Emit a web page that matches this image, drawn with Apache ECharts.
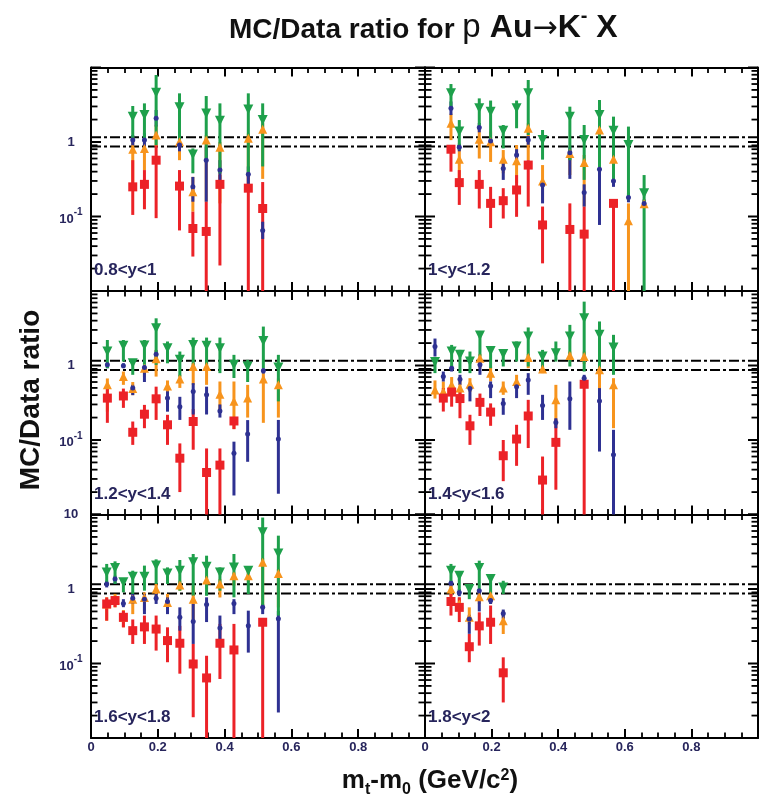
<!DOCTYPE html>
<html>
<head>
<meta charset="utf-8">
<script src="https://cdn.jsdelivr.net/npm/echarts@6.0.0/dist/echarts.min.js"></script>
<style>
html, body { margin: 0; padding: 0; background: #fff; }
#chart { width: 763px; height: 803px; }
</style>
</head>
<body>
<div id="chart"></div>
<script>
// Rapidity bins, one panel each
const binLabels = ['0.8<y<1', '1<y<1.2', '1.2<y<1.4', '1.4<y<1.6', '1.6<y<1.8', '1.8<y<2'];

// Tick labels
const xTickLabels = ['0', '0.2', '0.4', '0.6', '0.8'];

// Reference band drawn as two dash-dotted lines
const refLines = [0.87, 1.16];

// Each point: [mt-m0 (GeV/c2), MC/Data ratio, lower end of error bar, upper end of error bar]
const red1 = [[0.125,0.25,0.105,0.57],[0.160,0.27,0.125,0.42],[0.195,0.57,0.095,0.90],[0.265,0.256,0.065,0.42],[0.305,0.069,0.029,0.116],[0.345,0.063,0.001,0.158],[0.386,0.27,0.022,0.36],[0.471,0.24,0.001,0.36],[0.514,0.128,0.001,0.29]];
const orange1 = [[0.125,0.80,0.25,1.18],[0.160,0.82,0.42,1.12],[0.195,1.24,0.87,1.70],[0.265,1.01,0.57,1.18],[0.305,0.215,0.116,0.34],[0.345,1.06,0.158,1.24],[0.386,0.85,0.15,1.00],[0.471,1.12,0.25,1.30],[0.514,1.48,0.32,1.78]];
const blue1 = [[0.125,1.06,0.90,1.24],[0.160,1.06,0.87,1.31],[0.195,2.08,1.61,2.69],[0.265,0.91,0.75,1.06],[0.305,0.25,0.158,0.34],[0.345,0.57,0.158,0.87],[0.386,0.42,0.31,0.57],[0.471,0.37,0.25,0.47],[0.514,0.065,0.05,0.085]];
const green1 = [[0.125,2.19,1.06,3.04],[0.160,2.30,1.01,3.30],[0.195,4.59,0.91,7.93],[0.265,2.92,0.87,4.50],[0.305,0.68,0.38,0.82],[0.345,2.42,0.57,4.14],[0.386,1.93,0.38,3.30],[0.471,2.74,0.38,4.50],[0.514,1.97,0.47,3.30]];

const red2 = [[0.078,0.80,0.40,0.91],[0.103,0.285,0.143,0.42],[0.163,0.27,0.128,0.42],[0.197,0.15,0.07,0.25],[0.235,0.163,0.094,0.24],[0.275,0.227,0.099,0.36],[0.310,0.49,0.136,0.57],[0.353,0.077,0.0235,0.136],[0.435,0.067,0.001,0.15],[0.478,0.058,0.001,0.136],[0.566,0.15,0.001,0.166]];
const orange2 = [[0.078,1.78,1.06,2.40],[0.103,0.585,0.31,0.78],[0.163,1.09,0.60,1.53],[0.197,1.01,0.54,1.38],[0.235,0.585,0.38,0.78],[0.275,0.56,0.28,0.91],[0.310,1.53,0.57,1.78],[0.353,0.30,0.166,0.49],[0.435,0.70,0.36,0.80],[0.478,0.53,0.136,0.67],[0.524,1.45,0.34,1.69],[0.566,0.585,0.30,0.70],[0.611,0.088,0.001,0.15],[0.658,0.148,0.13,0.166]];
const blue2 = [[0.078,2.83,2.3,3.5],[0.103,0.85,0.75,0.95],[0.163,1.57,1.35,1.8],[0.197,1.03,0.9,1.17],[0.235,0.44,0.31,0.57],[0.275,0.67,0.57,0.80],[0.310,1.06,0.92,1.2],[0.353,0.265,0.15,0.31],[0.435,0.72,0.32,0.87],[0.478,0.21,0.136,0.27],[0.524,0.43,0.077,0.57],[0.566,0.30,0.25,0.35],[0.611,0.18,0.155,0.21],[0.658,0.15,0.13,0.17]];
const green2 = [[0.078,4.50,2.83,6.00],[0.103,1.38,0.78,1.97],[0.163,2.83,1.61,3.85],[0.197,2.55,1.06,3.60],[0.235,1.42,0.82,1.69],[0.275,2.83,1.53,3.60],[0.310,4.50,1.24,6.80],[0.353,1.06,0.58,1.45],[0.435,2.19,0.57,2.98],[0.478,1.06,0.31,1.69],[0.524,2.30,0.42,3.66],[0.566,1.42,0.31,2.19],[0.611,0.91,0.166,1.61],[0.658,0.205,0.001,0.36]];

const red3 = [[0.049,0.365,0.17,0.49],[0.097,0.39,0.27,0.49],[0.125,0.127,0.086,0.177],[0.160,0.222,0.144,0.296],[0.195,0.357,0.186,0.52],[0.229,0.16,0.086,0.218],[0.266,0.057,0.02,0.09],[0.306,0.177,0.074,0.26],[0.346,0.0366,0.001,0.077],[0.386,0.046,0.001,0.077],[0.428,0.18,0.14,0.20]];
const orange3 = [[0.049,0.55,0.24,0.67],[0.097,0.71,0.55,0.83],[0.125,0.49,0.40,0.60],[0.160,0.92,0.70,1.0],[0.195,1.23,0.71,1.62],[0.229,0.53,0.40,0.63],[0.266,0.66,0.50,0.75],[0.306,0.97,0.55,1.08],[0.346,0.97,0.55,1.13],[0.386,0.41,0.24,0.61],[0.428,0.33,0.14,0.61],[0.469,0.365,0.20,0.55],[0.516,0.66,0.17,0.79],[0.561,0.55,0.20,0.67]];
const blue3 = [[0.049,1.02,0.92,1.1],[0.097,0.99,0.92,1.07],[0.125,0.50,0.40,0.55],[0.160,0.94,0.60,1.02],[0.195,1.42,1.2,1.6],[0.229,0.365,0.24,0.45],[0.266,0.28,0.186,0.38],[0.306,0.448,0.22,0.58],[0.346,0.404,0.22,0.52],[0.386,0.246,0.20,0.30],[0.428,0.0666,0.018,0.095],[0.469,0.12,0.051,0.185],[0.516,0.85,0.78,0.92],[0.561,0.103,0.019,0.186]];
const green3 = [[0.049,1.54,0.92,2.20],[0.097,1.84,1.13,2.20],[0.125,1.07,0.75,1.19],[0.160,1.85,1.02,2.20],[0.195,3.17,1.02,4.30],[0.229,1.71,1.07,2.10],[0.266,1.19,0.71,1.54],[0.306,1.89,0.97,2.37],[0.346,1.84,0.92,2.37],[0.386,1.71,0.79,2.37],[0.428,1.02,0.68,1.39],[0.469,0.97,0.60,1.19],[0.516,2.14,0.92,3.33],[0.561,0.94,0.33,1.39]];

const red4 = [[0.055,0.365,0.241,0.497],[0.080,0.44,0.28,0.55],[0.105,0.36,0.196,0.448],[0.135,0.155,0.086,0.218],[0.165,0.32,0.21,0.42],[0.197,0.237,0.155,0.31],[0.235,0.0615,0.028,0.10],[0.275,0.103,0.045,0.16],[0.310,0.21,0.078,0.346],[0.353,0.029,0.001,0.06],[0.393,0.093,0.0215,0.19],[0.478,0.56,0.001,0.64]];
const orange4 = [[0.030,0.47,0.36,0.63],[0.055,0.448,0.33,0.61],[0.080,0.55,0.40,0.70],[0.105,0.497,0.365,0.63],[0.135,0.56,0.44,0.676],[0.165,1.25,0.92,1.43],[0.197,0.79,0.61,0.97],[0.235,0.497,0.404,0.61],[0.275,0.61,0.52,0.75],[0.310,1.28,0.92,1.43],[0.353,0.90,0.79,0.97],[0.393,0.346,0.177,0.55],[0.435,1.36,1.13,1.54],[0.478,1.32,1.05,1.54],[0.524,0.875,0.23,0.97],[0.566,0.55,0.144,0.676]];
const blue4 = [[0.030,1.80,1.32,2.30],[0.055,0.71,0.61,0.83],[0.080,0.92,0.83,1.0],[0.105,0.655,0.55,0.75],[0.135,0.49,0.33,0.55],[0.165,1.02,0.75,1.13],[0.197,0.53,0.365,0.61],[0.235,0.31,0.218,0.365],[0.275,0.52,0.365,0.61],[0.310,0.64,0.404,0.79],[0.353,0.29,0.186,0.404],[0.393,0.172,0.144,0.196],[0.435,0.357,0.137,0.61],[0.478,0.676,0.61,0.75],[0.524,0.335,0.07,0.497],[0.566,0.0632,0.001,0.137]];
const green4 = [[0.030,1.11,0.79,1.30],[0.080,1.54,0.875,1.89],[0.105,1.39,0.79,1.62],[0.135,1.13,0.79,1.54],[0.165,2.53,1.32,2.86],[0.197,1.57,0.92,1.80],[0.235,1.43,0.97,1.62],[0.275,1.80,1.13,2.10],[0.310,2.45,0.97,3.24],[0.353,1.32,0.875,1.62],[0.393,1.46,1.13,2.10],[0.435,2.45,0.97,3.51],[0.478,4.32,0.83,7.20],[0.524,2.58,0.92,3.90],[0.566,1.74,0.75,2.58]];

const red5 = [[0.047,0.63,0.376,0.77],[0.072,0.70,0.57,0.80],[0.097,0.417,0.306,0.51],[0.125,0.276,0.183,0.39],[0.160,0.31,0.183,0.44],[0.195,0.29,0.149,0.44],[0.229,0.203,0.104,0.306],[0.266,0.187,0.073,0.32],[0.306,0.0985,0.019,0.183],[0.346,0.064,0.001,0.127],[0.386,0.187,0.062,0.34],[0.428,0.152,0.001,0.34],[0.514,0.358,0.001,0.39]];
const orange5 = [[0.047,0.63,0.376,0.773],[0.072,0.73,0.567,0.86],[0.097,0.417,0.306,0.52],[0.125,0.73,0.46,0.83],[0.160,0.77,0.51,0.90],[0.195,1.0,0.70,1.17],[0.229,0.66,0.51,0.86],[0.266,1.13,0.95,1.29],[0.306,0.73,0.376,1.11],[0.346,1.32,1.0,1.51],[0.386,1.17,0.77,1.36],[0.428,1.51,1.11,1.67],[0.471,1.51,1.23,1.76],[0.514,2.28,0.567,2.6],[0.561,1.62,0.567,1.86]];
const blue5 = [[0.047,1.17,1.05,1.29],[0.072,1.36,1.17,1.51],[0.097,0.64,0.57,0.73],[0.125,0.75,0.63,0.86],[0.160,0.73,0.46,0.86],[0.195,0.75,0.63,0.86],[0.229,0.68,0.46,0.77],[0.266,0.417,0.276,0.567],[0.306,0.365,0.183,0.63],[0.346,0.62,0.36,0.773],[0.386,0.30,0.165,0.44],[0.428,0.64,0.46,0.73],[0.471,0.32,0.14,0.512],[0.514,0.567,0.46,0.63],[0.561,0.40,0.022,0.51]];
const green5 = [[0.047,1.67,1.11,2.17],[0.072,1.91,1.17,2.35],[0.097,1.23,0.902,1.36],[0.125,1.46,0.86,1.76],[0.160,1.46,0.95,2.06],[0.195,2.06,1.17,2.50],[0.229,1.62,1.17,1.95],[0.266,1.76,0.95,2.45],[0.306,2.28,0.81,2.95],[0.346,1.99,0.81,2.80],[0.386,1.67,0.95,1.95],[0.428,1.95,0.773,2.95],[0.471,1.76,0.857,1.95],[0.514,5.76,0.567,9.10],[0.561,3.00,0.44,5.20]];

const red6 = [[0.078,0.68,0.44,0.857],[0.103,0.567,0.36,0.773],[0.133,0.168,0.104,0.249],[0.163,0.32,0.174,0.487],[0.197,0.358,0.183,0.60],[0.235,0.075,0.03,0.121]];
const orange6 = [[0.078,1.0,0.80,1.17],[0.103,0.63,0.51,0.77],[0.133,0.417,0.339,0.567],[0.163,0.79,0.629,0.95],[0.197,0.81,0.629,0.95],[0.235,0.376,0.249,0.51]];
const blue6 = [[0.078,1.19,1.08,1.3],[0.103,0.90,0.80,1.0],[0.133,0.395,0.25,0.45],[0.163,0.95,0.5,1.0],[0.197,0.70,0.629,0.77],[0.235,0.47,0.40,0.53]];
const green6 = [[0.078,1.76,1.17,2.17],[0.103,1.51,0.902,1.67],[0.133,1.0,0.73,1.17],[0.163,1.91,1.0,2.4],[0.197,1.36,0.857,1.59],[0.235,1.05,0.857,1.29]];

const panelData = [
  { red: red1, orange: orange1, blue: blue1, green: green1 },
  { red: red2, orange: orange2, blue: blue2, green: green2 },
  { red: red3, orange: orange3, blue: blue3, green: green3 },
  { red: red4, orange: orange4, blue: blue4, green: green4 },
  { red: red5, orange: orange5, blue: blue5, green: green5 },
  { red: red6, orange: orange6, blue: blue6, green: green6 }
];

// ---- layout & style ----
const YMIN = 0.01, YMAX = 10;
const ROW_TOP = [67.5, 291, 514.5];
const ROW_H = 223.5;
const COL_LEFT = [91, 425];
const COL_W = [334, 333];
const INK = '#000';
const LABEL_INK = '#27255c';
const FONT = '"Liberation Sans", Arial, Helvetica, sans-serif';

const markerStyle = {
  orange: { color: '#f7941d', symbol: 'triangle', size: 9, rotate: 0 },
  red:    { color: '#ec2227', symbol: 'rect', size: 9, rotate: 0 },
  blue:   { color: '#2e3192', symbol: 'circle', size: 5, rotate: 0 },
  green:  { color: '#1ea04b', symbol: 'triangle', size: 10, rotate: 180 }
};
const drawOrder = ['orange', 'red', 'blue', 'green'];

// Tick positions on the logarithmic ratio axis
const decades = [0.01, 0.1, 1, 10];
const mantissas = [2, 3, 4, 5, 6, 7, 8, 9];
const yTicks = [];
decades.forEach(d => {
  yTicks.push([0, d, 1]);
  if (d < YMAX) mantissas.forEach(m => yTicks.push([0, m * d, 0]));
});

const grids = [], xAxes = [], yAxes = [], series = [], graphics = [];

function yLabelFormatter(row) {
  return function (v) {
    const e = Math.round(Math.log10(v));
    if (e === 0) return '1';
    if (e === -1) return '{m|10}{e|-1}';
    if (e === 1 && row === 2) return '10';
    return '';
  };
}

for (let p = 0; p < 6; p++) {
  const row = Math.floor(p / 2), col = p % 2;
  const g = { left: COL_LEFT[col], top: ROW_TOP[row], width: COL_W[col], height: ROW_H, outerBoundsMode: 'none' };
  grids.push(g);
  const bottomRow = row === 2, leftCol = col === 0;

  const xBase = {
    type: 'value', gridIndex: p, min: 0, max: 1, interval: 0.2,
    axisLine: { show: true, onZero: false, lineStyle: { color: INK, width: 2 } },
    axisTick: { show: true, inside: true, length: 9, lineStyle: { color: INK, width: 2 } },
    minorTick: { show: true, splitNumber: 4, length: 5.5, lineStyle: { color: INK, width: 1.8 } },
    splitLine: { show: false }, minorSplitLine: { show: false }
  };
  xAxes.push(Object.assign({}, xBase, {
    position: 'bottom',
    axisLabel: {
      show: bottomRow, margin: 3, color: LABEL_INK, fontFamily: FONT, fontWeight: 'bold', fontSize: 13,
      showMinLabel: true, showMaxLabel: true,
      formatter: v => { const i = Math.round(v / 0.2); return i < xTickLabels.length ? xTickLabels[i] : ''; }
    }
  }));
  xAxes.push(Object.assign({}, xBase, { position: 'top', axisLabel: { show: false } }));

  const yBase = {
    type: 'log', logBase: 10, gridIndex: p, min: YMIN, max: YMAX,
    axisLine: { show: true, onZero: false, lineStyle: { color: INK, width: 2 } },
    axisTick: { show: false }, minorTick: { show: false },
    splitLine: { show: false }, minorSplitLine: { show: false }
  };
  yAxes.push(Object.assign({}, yBase, {
    position: 'left',
    axisLabel: {
      show: leftCol, margin: 20, align: 'center', color: LABEL_INK, fontFamily: FONT, fontWeight: 'bold', fontSize: 13,
      showMinLabel: true, showMaxLabel: true,
      formatter: yLabelFormatter(row),
      rich: {
        m: { fontFamily: FONT, fontWeight: 'bold', fontSize: 13, color: LABEL_INK, lineHeight: 18, verticalAlign: 'bottom' },
        e: { fontFamily: FONT, fontWeight: 'bold', fontSize: 10, color: LABEL_INK, lineHeight: 10, verticalAlign: 'top' }
      }
    }
  }));
  yAxes.push(Object.assign({}, yBase, { position: 'right', axisLabel: { show: false } }));

  const xi = 2 * p;

  // ratio axis ticks, inside on both vertical edges
  series.push({
    type: 'custom', xAxisIndex: xi, yAxisIndex: xi, data: yTicks, silent: true, z: 5,
    encode: { x: 0, y: 1 },
    renderItem: (params, api) => {
      const v = api.value(1), major = api.value(2) === 1;
      const a = api.coord([0, v]), b = api.coord([1, v]);
      const L = major ? 10 : 6.5;
      const st = { stroke: INK, lineWidth: major ? 2 : 1.8 };
      return { type: 'group', children: [
        { type: 'line', shape: { x1: a[0], y1: a[1], x2: a[0] + L, y2: a[1] }, style: st },
        { type: 'line', shape: { x1: b[0], y1: b[1], x2: b[0] - L, y2: b[1] }, style: st }
      ] };
    }
  });

  // dash-dotted reference lines
  series.push({
    type: 'custom', xAxisIndex: xi, yAxisIndex: xi, data: refLines.map(v => [0, v]), silent: true, z: 4,
    encode: { x: 0, y: 1 },
    renderItem: (params, api) => {
      const v = api.value(1);
      const a = api.coord([0, v]), b = api.coord([1, v]);
      return { type: 'line', shape: { x1: a[0], y1: a[1], x2: b[0], y2: b[1] },
        style: { stroke: INK, lineWidth: 2, lineDash: [10, 3, 3, 3] } };
    }
  });

  // error bars
  drawOrder.forEach((key, k) => {
    const ms = markerStyle[key];
    series.push({
      type: 'custom', xAxisIndex: xi, yAxisIndex: xi, data: panelData[p][key], silent: true, z: 6 + k,
      encode: { x: 0, y: 1 },
      renderItem: (params, api) => {
        const x = api.value(0);
        const lo = Math.max(api.value(2), YMIN), hi = Math.min(api.value(3), YMAX);
        const a = api.coord([x, lo]), b = api.coord([x, hi]);
        return { type: 'line', shape: { x1: a[0], y1: a[1], x2: b[0], y2: b[1] },
          style: { stroke: ms.color, lineWidth: 3 } };
      }
    });
  });

  // markers
  drawOrder.forEach((key, k) => {
    const ms = markerStyle[key];
    series.push({
      type: 'scatter', xAxisIndex: xi, yAxisIndex: xi, silent: true, z: 12 + k,
      data: panelData[p][key].map(d => [d[0], d[1]]),
      symbol: ms.symbol, symbolSize: ms.size, symbolRotate: ms.rotate,
      itemStyle: { color: ms.color, opacity: 1 }
    });
  });

  // rapidity bin label
  graphics.push({
    type: 'text', left: g.left + 3, top: g.top + ROW_H - 29, z: 100,
    style: { text: binLabels[p], fill: LABEL_INK, font: 'bold 17px ' + FONT }
  });
}

// axis titles
graphics.push({
  type: 'text', x: 31, y: 400, rotation: Math.PI / 2, z: 100,
  style: { text: 'MC/Data ratio', fill: '#111', font: 'bold 28px ' + FONT, align: 'center', verticalAlign: 'middle' }
});
graphics.push({
  type: 'text', x: 430, y: 783, z: 100,
  style: {
    text: '{n|m}{s|t}{n|-m}{s|0}{n| (GeV/c}{p|2}{n|)}', align: 'center', verticalAlign: 'middle',
    rich: {
      n: { font: 'bold 26px ' + FONT, fill: '#111', lineHeight: 30, verticalAlign: 'top' },
      s: { font: 'bold 16px ' + FONT, fill: '#111', lineHeight: 8, verticalAlign: 'bottom' },
      p: { font: 'bold 16px ' + FONT, fill: '#111', lineHeight: 10, verticalAlign: 'top' }
    }
  }
});

// plot title
graphics.push({
  type: 'text', x: 229, y: 6, z: 100,
  style: {
    text: '{a|MC/Data ratio for }{p|p }{b|Au}{r|\u2192}{b|K}{s|-}{b| X}', align: 'left', verticalAlign: 'top',
    rich: {
      a: { font: 'bold 28px ' + FONT, fill: '#111', lineHeight: 38, verticalAlign: 'bottom' },
      p: { font: '33px ' + FONT, fill: '#111', lineHeight: 38, verticalAlign: 'bottom' },
      b: { font: 'bold 32px ' + FONT, fill: '#111', lineHeight: 38, verticalAlign: 'bottom' },
      r: { font: '30px "DejaVu Sans", ' + FONT, fill: '#111', lineHeight: 38, verticalAlign: 'bottom' },
      s: { font: 'bold 20px ' + FONT, fill: '#111', lineHeight: 16, verticalAlign: 'top' }
    }
  }
});

const option = {
  backgroundColor: '#fff',
  animation: false,
  grid: grids,
  xAxis: xAxes,
  yAxis: yAxes,
  series: series,
  graphic: graphics
};

const chart = echarts.init(document.getElementById('chart'), null, { renderer: 'canvas' });
chart.setOption(option);
</script>
</body>
</html>
